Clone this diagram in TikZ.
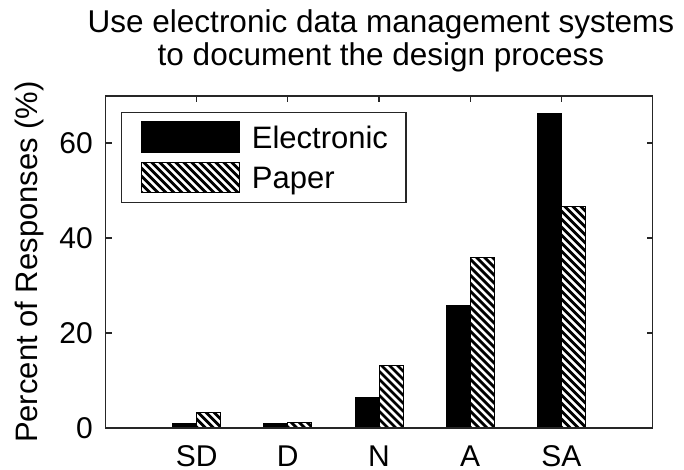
\documentclass[tikz,border=0pt]{standalone}
\usepackage{fontspec}
\setmainfont{Liberation Sans}
\tikzset{
  hatchline/.style={line width=2.8pt, black},
  baredge/.style={line width=1pt, black},
  axisline/.style={line width=1.3pt, black!85},
  ticklab/.style={font=\fontsize{30}{30}\selectfont, inner sep=0pt},
  titlelab/.style={font=\fontsize{31.5}{31.5}\selectfont, inner sep=0pt, anchor=base},
  leglab/.style={font=\fontsize{31}{31}\selectfont, inner sep=0pt, anchor=base west},
}
\newcommand{\hatchrect}[4]{%
  \begin{scope}
    \clip (#1,#2) rectangle (#3,#4);
    \pgfmathsetmacro{\hh}{#4-#2}
    \pgfmathtruncatemacro{\nn}{(#3-#1+\hh)/8+3}
    \foreach \i in {0,...,\nn}{
      \draw[hatchline] ({#1-\hh-8+8*\i},{#2-1}) -- ++({\hh+2},{\hh+2});
    }
  \end{scope}
  \draw[baredge] (#1,#2) rectangle (#3,#4);
}
\newcommand{\solidrect}[4]{%
  \fill[black] (#1,#2) rectangle (#3,#4);
  \draw[baredge] (#1,#2) rectangle (#3,#4);
}
\begin{document}
\begin{tikzpicture}[x=1pt,y=-1pt]
\useasboundingbox[fill=white] (0,0) rectangle (684,470);
% title
\node[titlelab] (t1) at (381,33) {Use electronic data management systems};
\node[titlelab] (t2) at (381,66) {to document the design process};
% axes frame and ticks
\coordinate (ll) at (105.5,428);
\coordinate (ur) at (652.5,96);
\foreach \y in {0,20,40,60}{
  \draw[axisline] (105.5,{428-4.75*\y}) -- ++(6,0);
  \draw[axisline] (652.5,{428-4.75*\y}) -- ++(-6,0);
  \node[ticklab, anchor=east] (yl\y) at (93,{428-4.75*\y}) {\y};
}
\foreach \c/\lab in {196.7/SD,287.8/D,379/N,470.2/A,561.3/SA}{
  \draw[axisline] (\c,428) -- ++(0,-6);
  \draw[axisline] (\c,96) -- ++(0,6);
  \node[ticklab, anchor=base, text depth=0pt] (xl\lab) at (\c,466) {\lab};
}
% bars
\solidrect{172.7}{423.25}{196.7}{428}
\hatchrect{196.7}{412.3}{220.7}{428}
\solidrect{263.8}{423.25}{287.8}{428}
\hatchrect{287.8}{422.8}{311.8}{428}
\solidrect{355}{397.1}{379}{428}
\hatchrect{379}{365.8}{403}{428}
\solidrect{446.2}{305.9}{470.2}{428}
\hatchrect{470.2}{257.5}{494.2}{428}
\solidrect{537.3}{113.1}{561.3}{428}
\hatchrect{561.3}{206.6}{585.3}{428}
\draw[axisline] (ll) rectangle (ur);
% y label
\node[font=\fontsize{31}{31}\selectfont, inner sep=0pt, rotate=90, anchor=base] (ylab) at (37,262) {Percent of Responses (\%)};
% legend
\draw[line width=1.3pt, black!85, fill=white] (121.7,112.3) rectangle (406,202.7);
\solidrect{141}{121.7}{239.3}{152.7}
\hatchrect{141}{162.3}{239.3}{192.7}
\node[leglab] (le) at (251.7,148.5) {Electronic};
\node[leglab] (lp) at (251.7,188.5) {Paper};
\end{tikzpicture}
\end{document}
